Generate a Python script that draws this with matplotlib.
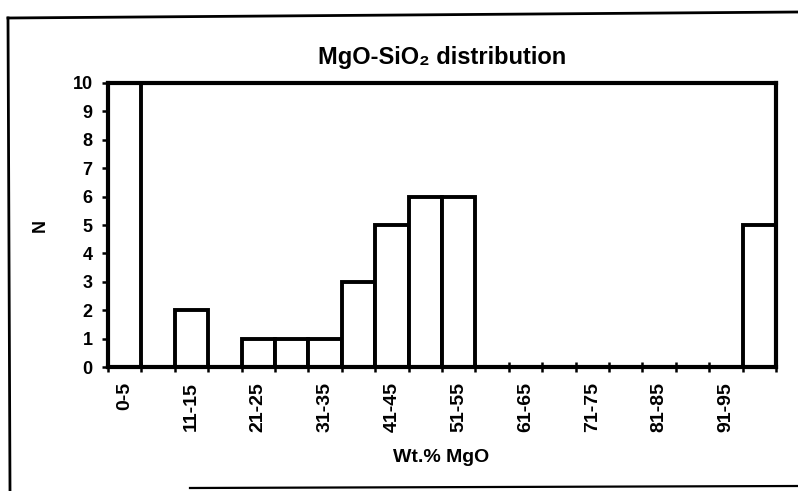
import matplotlib
matplotlib.use("Agg")
import matplotlib.pyplot as plt
from matplotlib.lines import Line2D

plt.rcParams['font.family'] = ['Liberation Sans', 'DejaVu Sans']
plt.rcParams['font.weight'] = 'bold'

# Wt.% MgO bins and their counts
bins = ["0-5", "6-10", "11-15", "16-20", "21-25", "26-30", "31-35", "36-40",
        "41-45", "46-50", "51-55", "56-60", "61-65", "66-70", "71-75", "76-80",
        "81-85", "86-90", "91-95", "96-100"]
counts = [10, 0, 2, 0, 1, 1, 1, 3, 5, 6, 6, 0, 0, 0, 0, 0, 0, 0, 0, 5]
y_ticks = list(range(0, 11))

fig = plt.figure(figsize=(7.98, 4.91), dpi=100)
ax = fig.add_axes([0.1353, 0.2525, 0.8371, 0.5785])

x = list(range(len(bins)))
ax.bar(x, counts, width=1.0, align='edge', facecolor='white',
       edgecolor='black', linewidth=2.8, zorder=2)

ax.set_xlim(0, len(bins))
ax.set_ylim(0, 10)

# labelled every other bin, ticks at every bin boundary
label_pos = [i + 0.5 for i in range(0, len(bins), 2)]
ax.set_xticks(label_pos)
ax.set_xticklabels(bins[::2], rotation=90, fontsize=14, fontweight='bold')
ax.tick_params(axis='x', which='major', length=0, pad=11)
ax.set_xticks(list(range(len(bins) + 1)), minor=True)
ax.tick_params(axis='x', which='minor', length=7, width=1.8, direction='inout')

ax.set_yticks(y_ticks)
ax.set_yticklabels([str(v) for v in y_ticks], fontsize=13, fontweight='bold')
ax.tick_params(axis='y', length=8, width=1.8, direction='inout', pad=7)

for s in ax.spines.values():
    s.set_linewidth(3.0)

ax.set_title("MgO-SiO₂ distribution", fontsize=17, fontweight='bold', pad=14)
ax.set_xlabel("Wt.% MgO", fontsize=14, fontweight='bold')
ax.set_ylabel("N", fontsize=13, fontweight='bold')
ax.xaxis.set_label_coords(0.498, -0.32)
ax.xaxis.label.set_va('center')
ax.yaxis.set_label_coords(-0.102, 0.5)
ax.yaxis.label.set_va('center')

# chart-area border
W, H = 798, 491
def fl(x0, y0, x1, y1, lw):
    fig.add_artist(Line2D([x0 / W, x1 / W], [1 - y0 / H, 1 - y1 / H],
                          color='black', linewidth=lw))
fl(8, 18, 798, 12, 2.0)
fl(8, 18, 10, 491, 2.0)
fl(190, 488, 798, 486, 1.6)

fig.savefig("out.png", dpi=100, facecolor='white')
